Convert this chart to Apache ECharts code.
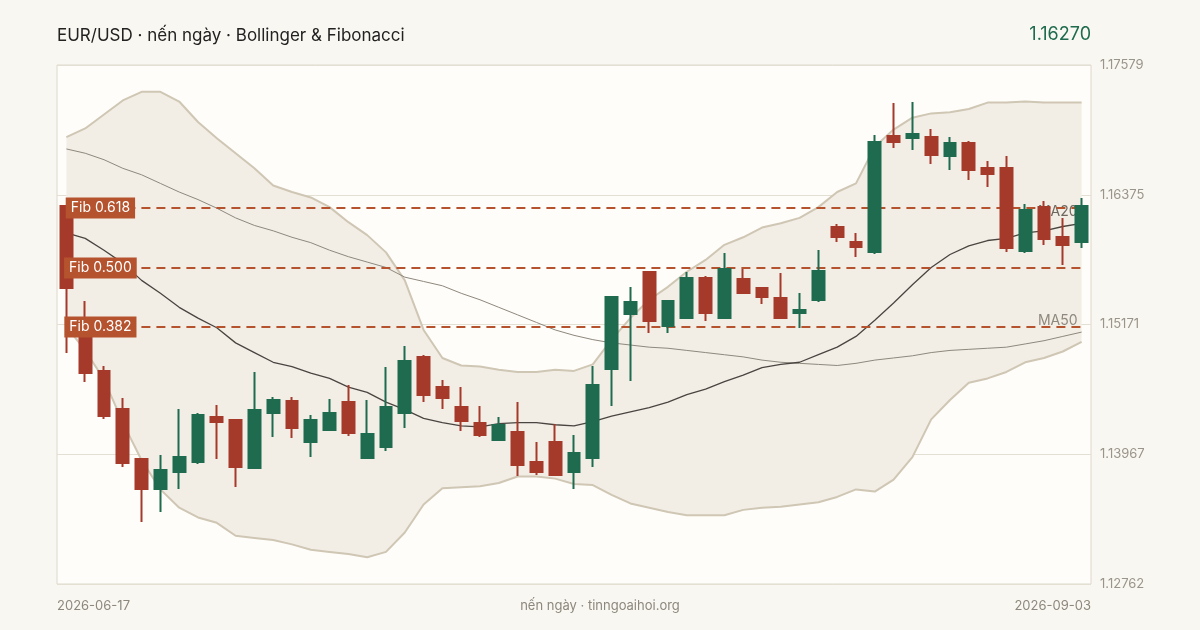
<!DOCTYPE html>
<html><head><meta charset="utf-8">
<script src="https://cdn.jsdelivr.net/npm/echarts@6/dist/echarts.min.js"></script>
<style>html,body{margin:0;padding:0;background:#f9f7f1;}#c{width:1200px;height:630px;}</style>
</head><body><div id="c"></div>
<script>
const title = 'EUR/USD · nến ngày · Bollinger & Fibonacci';
const lastPrice = '1.16270';
const footer = 'nến ngày · tinngoaihoi.org';
const tickLabels = ['1.12762','1.13967','1.15171','1.16375','1.17579'];
const yMin = 1.12762, yMax = 1.17579;
const holidays = ['2026-07-03','2026-08-31'];
const open  = [1.16270,1.15166,1.14739,1.14386,1.13922,1.13644,1.13802,1.13894,1.14312,1.14284,1.13839,1.14349,1.14460,1.14080,1.14191,1.14451,1.13931,1.14034,1.14349,1.14869,1.14590,1.14405,1.14256,1.14098,1.14173,1.13894,1.14080,1.13802,1.13931,1.14757,1.15268,1.15658,1.15157,1.15231,1.15602,1.15231,1.15593,1.15509,1.15416,1.15277,1.15398,1.16075,1.15936,1.15843,1.16920,1.16901,1.16911,1.16734,1.16855,1.16623,1.16623,1.15853,1.16261,1.15983,1.15936];
const close = [1.15509,1.14720,1.14321,1.13885,1.13644,1.13820,1.13941,1.14331,1.14266,1.13848,1.14377,1.14470,1.14210,1.14284,1.14349,1.14163,1.14154,1.14405,1.14832,1.14516,1.14488,1.14275,1.14145,1.14238,1.13866,1.13802,1.13774,1.13978,1.14609,1.15426,1.15379,1.15203,1.15389,1.15602,1.15277,1.15686,1.15463,1.15426,1.15231,1.15305,1.15667,1.15983,1.15890,1.16864,1.16864,1.16938,1.16744,1.16855,1.16604,1.16567,1.15880,1.16233,1.15964,1.15908,1.16270];
const low   = [1.14906,1.14637,1.14293,1.13848,1.13337,1.13430,1.13644,1.13876,1.13922,1.13662,1.13829,1.14126,1.14117,1.13941,1.14185,1.14136,1.13925,1.13996,1.14210,1.14451,1.14386,1.14182,1.14126,1.14098,1.13764,1.13774,1.13770,1.13644,1.13848,1.14414,1.14646,1.15092,1.15092,1.15225,1.15203,1.15225,1.15460,1.15361,1.15225,1.15138,1.15379,1.15936,1.15797,1.15825,1.16809,1.16790,1.16660,1.16604,1.16512,1.16447,1.15843,1.15834,1.15908,1.15723,1.15880];
const high  = [1.16280,1.15389,1.14785,1.14488,1.13925,1.13959,1.14386,1.14349,1.14423,1.14293,1.14730,1.14498,1.14498,1.14331,1.14479,1.14609,1.14470,1.14776,1.14971,1.14887,1.14655,1.14590,1.14414,1.14312,1.14451,1.14080,1.14247,1.14145,1.14785,1.15435,1.15519,1.15667,1.15398,1.15658,1.15620,1.15834,1.15686,1.15512,1.15648,1.15463,1.15862,1.16103,1.16020,1.16929,1.17226,1.17235,1.16985,1.16911,1.16874,1.16688,1.16734,1.16289,1.16317,1.16159,1.16345];
const bbUpper = [1.1691,1.1699,1.1712,1.1725,1.1733,1.1733,1.1724,1.1705,1.1690,1.1676,1.1662,1.1646,1.1640,1.1635,1.1626,1.1612,1.1600,1.1584,1.1558,1.1512,1.1486,1.1479,1.1478,1.1475,1.1473,1.1473,1.1475,1.1474,1.1480,1.1503,1.1523,1.1540,1.1552,1.1566,1.1577,1.1591,1.1598,1.1607,1.1611,1.1616,1.1626,1.1640,1.1648,1.1682,1.1698,1.1709,1.1713,1.1714,1.1717,1.1723,1.1723,1.1724,1.1723,1.1723,1.1723];
const bbLower = [1.1515,1.1493,1.1466,1.1426,1.1391,1.1364,1.1347,1.1338,1.1333,1.1321,1.1319,1.1317,1.1313,1.1308,1.1306,1.1304,1.1301,1.1306,1.1324,1.1350,1.1365,1.1366,1.1367,1.1370,1.1376,1.1376,1.1374,1.1369,1.1368,1.1359,1.1351,1.1347,1.1343,1.1340,1.1340,1.1340,1.1345,1.1347,1.1348,1.1350,1.1352,1.1357,1.1364,1.1362,1.1373,1.1394,1.1429,1.1447,1.1463,1.1467,1.1473,1.1482,1.1486,1.1492,1.1501];
const ma20 = [1.1602,1.1597,1.1586,1.1574,1.1558,1.1546,1.1533,1.1523,1.1514,1.1500,1.1491,1.1482,1.1478,1.1472,1.1467,1.1459,1.1454,1.1445,1.1438,1.1430,1.1426,1.1423,1.1422,1.1425,1.1426,1.1426,1.1424,1.1423,1.1427,1.1432,1.1436,1.1440,1.1445,1.1452,1.1457,1.1464,1.1470,1.1477,1.1480,1.1482,1.1489,1.1496,1.1506,1.1521,1.1537,1.1554,1.1570,1.1582,1.1590,1.1595,1.1597,1.1602,1.1604,1.1608,1.1611];
const ma50 = [1.1680,1.1676,1.1670,1.1662,1.1656,1.1648,1.1640,1.1633,1.1625,1.1616,1.1609,1.1604,1.1598,1.1593,1.1586,1.1580,1.1575,1.1570,1.1561,1.1557,1.1553,1.1546,1.1540,1.1533,1.1526,1.1519,1.1512,1.1507,1.1503,1.1500,1.1498,1.1496,1.1495,1.1493,1.1491,1.1489,1.1487,1.1484,1.1482,1.1481,1.1480,1.1479,1.1481,1.1484,1.1486,1.1488,1.1491,1.1493,1.1494,1.1495,1.1496,1.1499,1.1502,1.1506,1.1510];
const fibNames = ['Fib 0.618','Fib 0.500','Fib 0.382'];
const fibValues = [1.16252,1.15695,1.15147];

const dates = [];
(function(){ let d = new Date(Date.UTC(2026,5,17)); while (dates.length < open.length) { const w = d.getUTCDay(); const s = d.toISOString().slice(0,10); if (w!==0 && w!==6 && holidays.indexOf(s)<0) dates.push(s); d = new Date(d.getTime()+86400000);} })();

const ohlc = open.map((o,i)=>[o, close[i], low[i], high[i]]);
const bbDiff = bbUpper.map((u,i)=>+(u-bbLower[i]).toFixed(5));
const GREEN='#1e6b4f', RED='#a63a2a', FIB='#b5532f';
const FONT='Inter, "Noto Sans", sans-serif';

const fibSeries = fibValues.map((v,i)=>({
  type:'line', name:fibNames[i], data:dates.map(()=>v), symbol:'none', silent:true, z:4,
  lineStyle:{color:FIB,type:[9,6],width:2}
}));
const fibLabels = {
  type:'scatter', data:fibValues.map((v,i)=>({value:[0,v],name:fibNames[i]})), symbolSize:1, z:6, silent:true,
  itemStyle:{opacity:1,color:'rgba(0,0,0,0)'},
  label:{show:true,position:'inside',formatter:p=>p.name,color:'#fff',backgroundColor:FIB,opacity:1,padding:[4,5,3,5],fontSize:14,fontFamily:FONT,offset:[34,0]}
};

const chart = echarts.init(document.getElementById('c'));
chart.setOption({
  backgroundColor:'#f9f7f1',
  animation:false,
  textStyle:{fontFamily:FONT},
  grid:{left:57,right:109,top:65,bottom:46,show:true,backgroundColor:'#fffdf9',borderColor:'#ddd8cc',borderWidth:1},
  xAxis:{type:'category',data:dates,boundaryGap:true,axisLine:{show:false},axisTick:{show:false},axisLabel:{show:false},splitLine:{show:false}},
  yAxis:[
    {type:'value',min:yMin,max:yMax,show:false,scale:true},
    {type:'value',min:0,max:tickLabels.length-1,interval:1,position:'right',axisLine:{show:false},axisTick:{show:false},
     axisLabel:{formatter:v=>tickLabels[v],color:'#9a958a',fontSize:13,margin:9,fontFamily:FONT},
     splitLine:{show:true,lineStyle:{color:'#e3dfd3',width:1}}}
  ],
  graphic:[
    {type:'text',left:57,top:27,style:{text:title,fill:'#222',font:'17px '+FONT}},
    {type:'text',right:109,top:26,style:{text:lastPrice,fill:GREEN,font:'18px '+FONT}},
    {type:'text',left:57,top:600,style:{text:dates[0],fill:'#8d887d',font:'13px '+FONT}},
    {type:'text',right:109,top:600,style:{text:dates[dates.length-1],fill:'#8d887d',font:'13px '+FONT}},
    {type:'text',left:'center',top:600,style:{text:footer,fill:'#8d887d',font:'13px '+FONT}}
  ],
  series:[
    {type:'line',data:bbLower,stack:'bb',symbol:'none',lineStyle:{width:0},silent:true,z:1},
    {type:'line',data:bbDiff,stack:'bb',symbol:'none',lineStyle:{width:0},areaStyle:{color:'#f2eee6',opacity:1},silent:true,z:1},
    {type:'line',data:bbUpper,symbol:'none',lineStyle:{color:'#cfc6b4',width:2},z:2},
    {type:'line',data:bbLower,symbol:'none',lineStyle:{color:'#cfc6b4',width:2},z:2},
    {type:'line',data:ma50,symbol:'none',lineStyle:{color:'#8e887d',width:1},z:3,
     endLabel:{show:true,formatter:'MA50',color:'#8e887d',fontSize:14,align:'right',verticalAlign:'bottom',offset:[-12,-4]}},
    {type:'line',data:ma20,symbol:'none',lineStyle:{color:'#4a4540',width:1.3},z:3,
     endLabel:{show:true,formatter:'MA20',color:'#6e685f',fontSize:14,align:'right',verticalAlign:'bottom',offset:[-12,-4]}},
    ...fibSeries,
    {type:'candlestick',data:ohlc,barWidth:'66%',z:5,
     itemStyle:{color:GREEN,color0:RED,borderColor:GREEN,borderColor0:RED,borderWidth:2}},
    fibLabels
  ]
});
</script></body></html>
